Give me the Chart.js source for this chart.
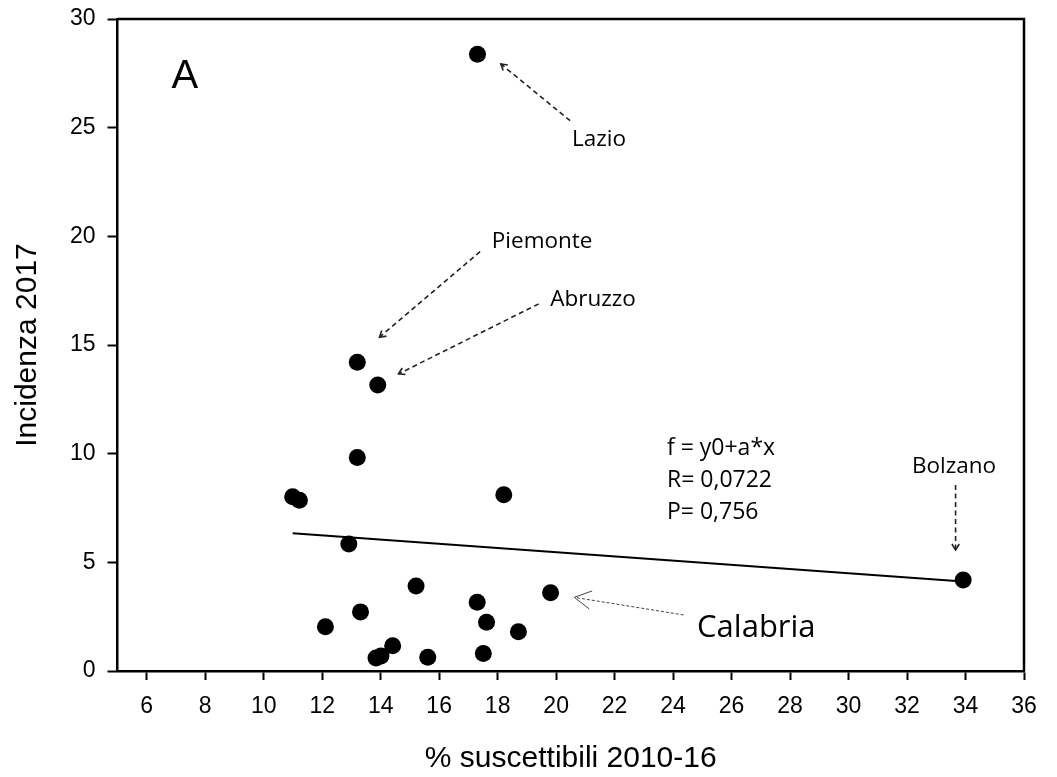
<!DOCTYPE html>
<html>
<head>
<meta charset="utf-8">
<script src="https://cdn.jsdelivr.net/npm/chart.js@4.4.1/dist/chart.umd.min.js"></script>
<style>
    html, body { margin: 0; padding: 0; background: #fff; }
</style>
</head>
<body>
<canvas id="scatterChart" width="1057" height="777"></canvas>
<script>
// ---------------- Daten ----------------
// % suscettibili 2010-16 (x) / Incidenza 2017 (y), una riga per regione
const suscettibili = [17.31, 13.20, 13.90, 13.20, 10.99, 11.22, 18.21, 12.91, 15.21, 19.81, 17.30,
                      13.31, 17.62, 12.11, 18.71, 14.41, 13.84, 14.01, 15.61, 17.51, 33.92];
const incidenza    = [28.38, 14.21, 13.16, 9.82, 8.02, 7.86, 8.11, 5.84, 3.91, 3.60, 3.16,
                      2.72, 2.24, 2.04, 1.81, 1.16, 0.60, 0.69, 0.63, 0.80, 4.19];

// retta di regressione f = y0 + a*x
const fitX = [10.99, 33.92];
const fitY = [6.34, 4.12];

const xTicks = [6, 8, 10, 12, 14, 16, 18, 20, 22, 24, 26, 28, 30, 32, 34, 36];
const yTicks = [0, 5, 10, 15, 20, 25, 30];

const statsLines = ["f = y0+a*x", "R= 0,0722", "P= 0,756"];

// etichette e frecce (in unità dei dati)
const labels = [
    { text: "Lazio",    x: 20.54, y: 24.16 },
    { text: "Piemonte", x: 17.80, y: 19.47 },
    { text: "Abruzzo",  x: 19.80, y: 16.80 },
    { text: "Bolzano",  x: 32.17, y: 9.13 }
];
const arrows = [
    { from: [20.48, 25.32], to: [18.11, 27.93] },
    { from: [17.40, 19.30], to: [13.96, 15.36] },
    { from: [19.40, 16.89], to: [14.61, 13.67] },
    { from: [33.66, 8.56],  to: [33.66, 5.57] }
];
const calabria = { text: "Calabria", x: 24.82, y: 1.58, from: [24.36, 2.58], to: [20.62, 3.39] };

// ---------------- Disegno ----------------
function drawArrow(ctx, x1, y1, x2, y2, s) {
    ctx.save();
    ctx.strokeStyle = s.color;
    ctx.lineWidth = s.width;
    ctx.setLineDash(s.dash);
    ctx.beginPath();
    ctx.moveTo(x1, y1);
    ctx.lineTo(x2, y2);
    ctx.stroke();
    ctx.setLineDash([]);
    const a = Math.atan2(y1 - y2, x1 - x2);
    ctx.beginPath();
    ctx.moveTo(x2 + s.head * Math.cos(a + s.spread), y2 + s.head * Math.sin(a + s.spread));
    ctx.lineTo(x2, y2);
    ctx.lineTo(x2 + s.head * Math.cos(a - s.spread), y2 + s.head * Math.sin(a - s.spread));
    ctx.stroke();
    ctx.restore();
}

const framePlugin = {
    id: "frame",
    afterDraw(chart) {
        const { ctx, chartArea: ca } = chart;
        ctx.save();
        ctx.strokeStyle = "#000";
        ctx.lineWidth = 2.5;
        ctx.beginPath();
        ctx.moveTo(ca.left, ca.top);
        ctx.lineTo(ca.right, ca.top);
        ctx.lineTo(ca.right, ca.bottom);
        ctx.stroke();
        ctx.restore();
    }
};

const annotationPlugin = {
    id: "annotazioni",
    afterDraw(chart) {
        const { ctx } = chart;
        const sx = chart.scales.x, sy = chart.scales.y;
        const px = v => sx.getPixelForValue(v);
        const py = v => sy.getPixelForValue(v);

        ctx.save();
        ctx.fillStyle = "#000";
        ctx.textAlign = "left";
        ctx.textBaseline = "alphabetic";

        ctx.font = "40px 'Liberation Sans', Arial, sans-serif";
        ctx.fillText("A", px(6.85), py(26.82));

        ctx.font = "22.5px 'Open Sans', sans-serif";
        labels.forEach(l => ctx.fillText(l.text, px(l.x), py(l.y)));

        ctx.font = "23px 'Open Sans', sans-serif";
        const statsY = [9.94, 8.48, 6.98];
        statsLines.forEach((t, i) => ctx.fillText(t, px(23.79), py(statsY[i])));

        ctx.font = "31px 'Open Sans', sans-serif";
        ctx.fillText(calabria.text, px(calabria.x), py(calabria.y));
        ctx.restore();

        arrows.forEach(a => drawArrow(ctx, px(a.from[0]), py(a.from[1]), px(a.to[0]), py(a.to[1]),
            { color: "#222", width: 1.6, dash: [5, 3.5], head: 7, spread: 0.55 }));
        drawArrow(ctx, px(calabria.from[0]), py(calabria.from[1]), px(calabria.to[0]), py(calabria.to[1]),
            { color: "#444", width: 1, dash: [3, 2], head: 19, spread: 0.5 });
    }
};

const tickFont = { family: "'Liberation Sans', Arial, sans-serif", size: 23 };
const titleFont = { family: "'Liberation Sans', Arial, sans-serif", size: 30, lineHeight: 1.2 };

new Chart(document.getElementById("scatterChart").getContext("2d"), {
    type: "scatter",
    data: {
        datasets: [
            {
                data: suscettibili.map((x, i) => ({ x, y: incidenza[i] })),
                backgroundColor: "#000",
                borderWidth: 0,
                pointRadius: 8.5,
                order: 1
            },
            {
                type: "line",
                data: fitX.map((x, i) => ({ x, y: fitY[i] })),
                borderColor: "#000",
                borderWidth: 2,
                pointRadius: 0,
                fill: false,
                order: 2
            }
        ]
    },
    options: {
        responsive: false,
        animation: false,
        layout: { padding: { top: 19, right: 33, left: 0, bottom: 0 } },
        plugins: { legend: { display: false }, tooltip: { enabled: false } },
        scales: {
            x: {
                type: "linear",
                min: 5,
                max: 36,
                afterBuildTicks: s => { s.ticks = xTicks.map(v => ({ value: v })); },
                afterFit: s => { s.height = 106; s.paddingLeft = 0; s.paddingRight = 0; },
                ticks: { font: tickFont, color: "#000", padding: 13, maxRotation: 0 },
                grid: { drawOnChartArea: false, tickLength: 9, tickWidth: 2, tickColor: "#000" },
                border: { display: true, width: 2.5, color: "#000" },
                title: { display: true, text: "% suscettibili 2010-16", font: titleFont, color: "#000",
                         padding: { top: 0, bottom: 0 } }
            },
            y: {
                type: "linear",
                min: 0,
                max: 30,
                afterBuildTicks: s => { s.ticks = yTicks.map(v => ({ value: v })); },
                afterFit: s => { s.width = 117.5; s.paddingTop = 0; s.paddingBottom = 0; },
                ticks: { font: tickFont, color: "#000", padding: 12 },
                grid: { drawOnChartArea: false, tickLength: 10, tickWidth: 2, tickColor: "#000" },
                border: { display: true, width: 2.5, color: "#000" },
                title: { display: true, text: "Incidenza 2017", font: titleFont, color: "#000",
                         padding: { top: 10, bottom: 0 } }
            }
        }
    },
    plugins: [framePlugin, annotationPlugin]
});
</script>
</body>
</html>
